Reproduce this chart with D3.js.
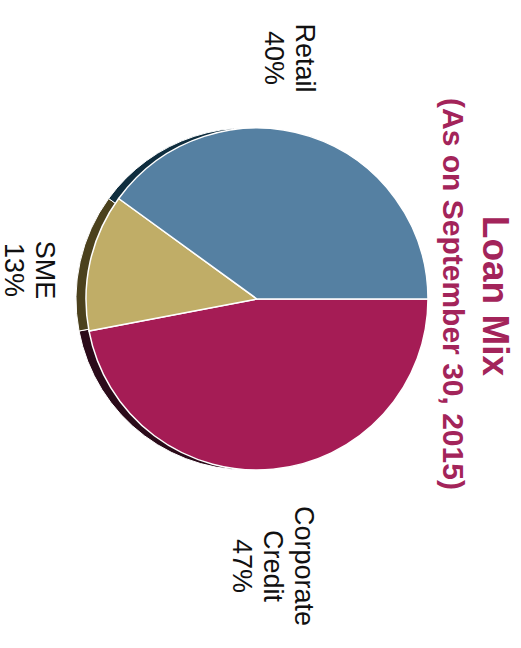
<!DOCTYPE html>
<html>
<head>
<meta charset="utf-8">
<script src="https://cdn.jsdelivr.net/npm/d3@7"></script>
<style>
  html, body { margin: 0; padding: 0; background: #ffffff; }
  svg { display: block; }
  text { font-family: "Liberation Sans", Arial, sans-serif; }
</style>
</head>
<body>
<svg id="chart" width="521" height="648"></svg>
<script>
// Loan mix shares, in percent
const categories = ["Corporate Credit", "SME", "Retail"];
const shares = [47, 13, 40];
const labelLines = [["Corporate", "Credit"], ["SME"], ["Retail"]];
const sliceColors = ["#a51c55", "#c0ad67", "#5580a2"];
const edgeColors = ["#2b0b1a", "#4b411d", "#0f2d3e"];
const titleText = "Loan Mix";
const subtitleText = "(As on September 30, 2015)";

// The chart is laid out on a 648 x 521 canvas and turned a quarter turn clockwise.
const W = 648, H = 521;
const svg = d3.select("#chart");
const root = svg.append("g").attr("transform", `translate(${H},0) rotate(90)`);

const cx = 299, cy = 264, radius = 171, depth = 10;

const pie = d3.pie().sort(null).value(d => d.value).startAngle(0).endAngle(2 * Math.PI);
const arcs = pie(categories.map((c, i) => ({ name: c, value: shares[i], i })));
const arc = d3.arc().innerRadius(0).outerRadius(radius);

// dark edge underneath the pie
root.append("g")
  .attr("transform", `translate(${cx},${cy + depth})`)
  .selectAll("path")
  .data(arcs)
  .join("path")
  .attr("d", arc)
  .attr("fill", d => edgeColors[d.data.i])
  .attr("stroke", "#ffffff")
  .attr("stroke-width", 1);

// slices
root.append("g")
  .attr("transform", `translate(${cx},${cy})`)
  .selectAll("path")
  .data(arcs)
  .join("path")
  .attr("d", arc)
  .attr("fill", d => sliceColors[d.data.i])
  .attr("stroke", "#ffffff")
  .attr("stroke-width", 1.5)
  .attr("stroke-linejoin", "round");

// label anchors (centre x, first baseline) around the pie
const labelAnchors = {
  "Corporate Credit": [cx + 267, cy - 38],
  "SME": [cx - 29, cy + 221],
  "Retail": [cx - 241, cy - 39]
};
const lineStep = 31;

const labels = root.append("g")
  .selectAll("text")
  .data(arcs)
  .join("text")
  .attr("text-anchor", "middle")
  .attr("font-size", 27)
  .attr("fill", "#111111")
  .attr("x", d => labelAnchors[d.data.name][0])
  .attr("y", d => labelAnchors[d.data.name][1]);

labels.each(function (d) {
  const lines = labelLines[d.data.i].concat([d3.format(".0f")(d.data.value) + "%"]);
  const [x] = labelAnchors[d.data.name];
  d3.select(this).selectAll("tspan")
    .data(lines)
    .join("tspan")
    .attr("x", x)
    .attr("dy", (t, k) => k === 0 ? 0 : lineStep)
    .text(t => t);
});

// title block
root.append("text")
  .attr("x", 296)
  .attr("y", 38)
  .attr("text-anchor", "middle")
  .attr("font-size", 37)
  .attr("font-weight", "bold")
  .attr("fill", "#a3245a")
  .text(titleText);

root.append("text")
  .attr("x", 294)
  .attr("y", 78)
  .attr("text-anchor", "middle")
  .attr("font-size", 30)
  .attr("font-weight", "bold")
  .attr("fill", "#a3245a")
  .text(subtitleText);
</script>
</body>
</html>
